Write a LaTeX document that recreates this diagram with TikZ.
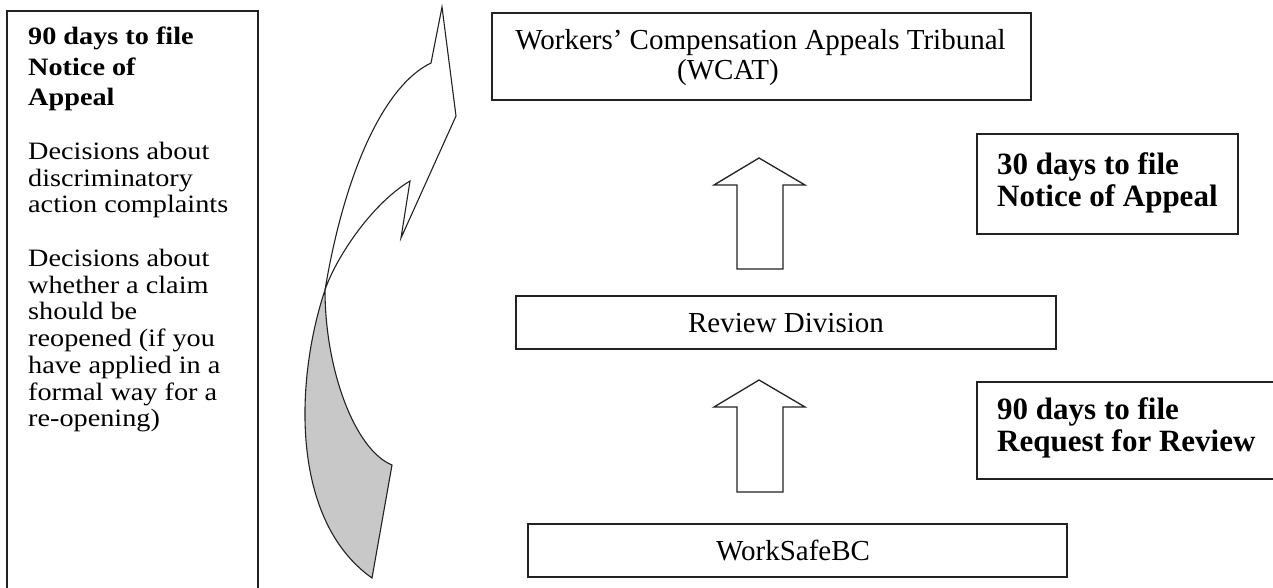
\documentclass[tikz,border=0pt]{standalone}
\usepackage{fontspec}
\setmainfont{Liberation Serif}
\newfontfamily\leftfont[FakeStretch=1.13]{Liberation Serif}
\definecolor{lineC}{RGB}{34,34,34}
\definecolor{greyC}{RGB}{200,200,200}
\begin{document}
\begin{tikzpicture}[x=1pt,y=-1pt,line join=miter]
\tikzset{
  boxstyle/.style={draw=lineC,line width=1.5pt,fill=white,inner sep=0pt,outer sep=0pt,anchor=north west},
  midtext/.style={anchor=base,inner sep=0pt,font=\fontsize{29}{32}\selectfont},
  sidetext/.style={anchor=north west,inner sep=0pt,align=left,font=\fontsize{31}{32.5}\selectfont\bfseries},
  lefthead/.style={anchor=north west,inner sep=0pt,align=left,font=\leftfont\fontsize{25}{30.5}\selectfont\bfseries},
  lefttext/.style={anchor=north west,inner sep=0pt,align=left,font=\leftfont\fontsize{25}{26.7}\selectfont},
  blockarrow/.style={draw=lineC,line width=1.3pt,fill=white},
  curvearrow/.style={draw=lineC,line width=1.1pt}
}
\useasboundingbox (0,0) rectangle (1273,588);
\clip (0,0) rectangle (1273,588);

% boxes
\node[boxstyle,minimum width=251pt,minimum height=589pt] (left) at (7,11) {};
\node[boxstyle,minimum width=539pt,minimum height=87pt] (wcat) at (492,13) {};
\node[boxstyle,minimum width=540pt,minimum height=53pt] (review) at (516,296) {};
\node[boxstyle,minimum width=539pt,minimum height=53pt] (worksafe) at (528,524) {};
\node[boxstyle,minimum width=261pt,minimum height=100pt] (thirty) at (977,134) {};
\node[boxstyle,minimum width=313pt,minimum height=97pt] (ninety) at (977,382) {};

% texts
\node[midtext] (wcat1) at (760.5,50) {Workers’ Compensation Appeals Tribunal};
\node[midtext,anchor=base west] (wcat2) at (677,80) {(WCAT)};
\node[midtext] (reviewT) at (786,332) {Review Division};
\node[midtext] (worksafeT) at (793,560) {WorkSafeBC};
\node[sidetext] (thirtyT) at (997,152) {30 days to file\\Notice of Appeal};
\node[sidetext] (ninetyT) at (997,397) {90 days to file\\Request for Review};
\node[lefthead] (leftH) at (28,27) {90 days to file\\Notice of\\Appeal};
\node[lefttext] (leftA) at (28,142) {Decisions about\\discriminatory\\action complaints};
\node[lefttext] (leftB) at (28,249) {Decisions about\\whether a claim\\should be\\reopened (if you\\have applied in a\\formal way for a\\re-opening)};

% block arrows
\draw[blockarrow] (759,158) -- (805,185) -- (783,185) -- (783,269) -- (737,269) -- (737,185) -- (714,185) -- cycle;
\draw[blockarrow] (759,380) -- (805,407) -- (783,407) -- (783,492) -- (737,492) -- (737,407) -- (714,407) -- cycle;

% curved arrow
\coordinate (cross) at (325,290);
\filldraw[curvearrow,fill=greyC] (cross) .. controls (295,380) and (290,520) .. (372,578) -- (392,465) .. controls (355,450) and (325,370) .. (cross) -- cycle;
\filldraw[curvearrow,fill=white] (cross) .. controls (345,170) and (385,85) .. (431,63) -- (442,7) -- (456,116) -- (401,238) -- (410,181) .. controls (370,205) and (335,260) .. (cross) -- cycle;
\end{tikzpicture}
\end{document}
